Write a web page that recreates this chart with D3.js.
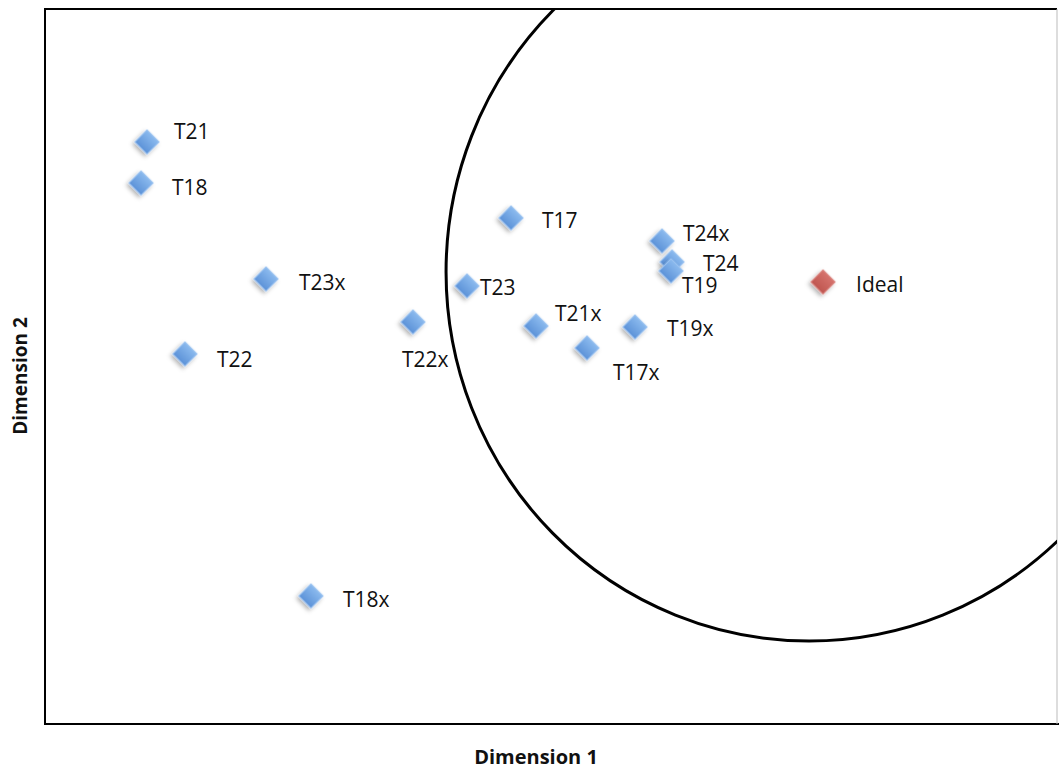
<!DOCTYPE html>
<html>
<head>
<meta charset="utf-8">
<script src="https://cdn.jsdelivr.net/npm/d3@7"></script>
<style>
  html, body { margin: 0; padding: 0; background: #fff; }
  svg { display: block; }
  text { font-family: "Open Sans", "DejaVu Sans", sans-serif; fill: #111; }
</style>
</head>
<body>
<svg id="chart" width="1059" height="769"></svg>
<script>
// ---- data ----
const names   = ["T21", "T18", "T23x", "T22", "T18x", "T22x", "T23", "T17", "T21x", "T17x", "T19x", "T24x", "T24", "T19"];
const dim1    = [10.08, 9.49, 21.84, 13.83, 26.28, 36.36, 41.70, 46.05, 48.52, 53.56, 58.30, 60.97, 61.96, 61.86];
const dim2    = [81.40, 75.66, 62.24, 51.75, 17.90, 56.22, 61.26, 70.77, 55.66, 52.59, 55.52, 67.55, 64.62, 63.36];
const idealName = "Ideal";
const idealDim1 = 76.88;
const idealDim2 = 61.82;
// acceptance region around the ideal point (centre and radii in data units)
const regionCenter = [75.50, 63.22];
const regionRadius = [35.87, 51.61];
const xDomain = [0, 100];
const yDomain = [0, 100];
const xTitle = "Dimension 1";
const yTitle = "Dimension 2";

// ---- layout (label offsets in px: dx from point to text start, dy to text middle) ----
const labelOffsets = {
  "T21": [27, -10.5], "T18": [31, 4], "T23x": [33, 3], "T22": [32, 5.5], "T18x": [32, 3],
  "T22x": [-11, 37.5], "T23": [13, 1], "T17": [31, 2], "T21x": [19, -13], "T17x": [26, 24],
  "T19x": [32, 1], "T24x": [21, -8], "T24": [31, 1.5], "T19": [11, 14], "Ideal": [33, 2.5]
};

const svg = d3.select("#chart");
const pLeft = 45, pRight = 1057, pTop = 9, pBottom = 724;

const x = d3.scaleLinear().domain(xDomain).range([pLeft, pRight]);
const y = d3.scaleLinear().domain(yDomain).range([pBottom, pTop]);

const defs = svg.append("defs");
const gB = defs.append("linearGradient").attr("id", "gBlue").attr("x1", 0).attr("y1", 0).attr("x2", 0).attr("y2", 1);
gB.append("stop").attr("offset", "0%").attr("stop-color", "#8bbaee");
gB.append("stop").attr("offset", "100%").attr("stop-color", "#5c92d8");
const gR = defs.append("linearGradient").attr("id", "gRed").attr("x1", 0).attr("y1", 0).attr("x2", 0).attr("y2", 1);
gR.append("stop").attr("offset", "0%").attr("stop-color", "#d6736d");
gR.append("stop").attr("offset", "100%").attr("stop-color", "#bf5650");
const f = defs.append("filter").attr("id", "shadow").attr("x", "-50%").attr("y", "-50%").attr("width", "200%").attr("height", "200%");
f.append("feDropShadow").attr("dx", 0).attr("dy", 3).attr("stdDeviation", 2.2).attr("flood-color", "#000").attr("flood-opacity", 0.3);
defs.append("clipPath").attr("id", "plotClip").append("rect")
  .attr("x", pLeft).attr("y", pTop).attr("width", pRight - pLeft).attr("height", pBottom - pTop);

// frame
svg.append("line").attr("x1", pLeft).attr("x2", pLeft).attr("y1", pTop).attr("y2", pBottom).attr("stroke", "#000").attr("stroke-width", 2);
svg.append("line").attr("x1", pLeft - 1).attr("x2", pRight + 2).attr("y1", pBottom).attr("y2", pBottom).attr("stroke", "#000").attr("stroke-width", 2);
svg.append("line").attr("x1", pLeft - 1).attr("x2", pRight).attr("y1", pTop).attr("y2", pTop).attr("stroke", "#000").attr("stroke-width", 2);
svg.append("line").attr("x1", pRight).attr("x2", pRight).attr("y1", pTop).attr("y2", pBottom).attr("stroke", "#bbb").attr("stroke-width", 1);

// region circle
svg.append("ellipse")
  .attr("clip-path", "url(#plotClip)")
  .attr("cx", x(regionCenter[0])).attr("cy", y(regionCenter[1]))
  .attr("rx", x(regionCenter[0] + regionRadius[0]) - x(regionCenter[0]))
  .attr("ry", y(regionCenter[1]) - y(regionCenter[1] + regionRadius[1]))
  .attr("fill", "none").attr("stroke", "#000").attr("stroke-width", 3);

const pts = names.map((n, i) => ({ name: n, x: dim1[i], y: dim2[i], ideal: false }));
pts.push({ name: idealName, x: idealDim1, y: idealDim2, ideal: true });

const sym = d3.symbol().type(d3.symbolSquare).size(300);

svg.append("g").selectAll("path").data(pts).join("path")
  .attr("d", sym)
  .attr("transform", d => `translate(${x(d.x)},${y(d.y)}) rotate(45)`)
  .attr("fill", d => d.ideal ? "url(#gRed)" : "url(#gBlue)")
  .attr("stroke", d => d.ideal ? "#dc8a85" : "#9ec4f1")
  .attr("stroke-width", 1)
  .attr("filter", "url(#shadow)");

svg.append("g").selectAll("text").data(pts).join("text")
  .attr("x", d => x(d.x) + labelOffsets[d.name][0])
  .attr("y", d => y(d.y) + labelOffsets[d.name][1])
  .attr("dy", "0.36em")
  .attr("font-size", 21)
  .text(d => d.name);

svg.append("text").attr("x", 536).attr("y", 757).attr("dy", "0.36em")
  .attr("text-anchor", "middle").attr("font-size", 20).attr("font-weight", "bold").text(xTitle);
svg.append("text").attr("transform", "translate(20,376) rotate(-90)").attr("dy", "0.36em")
  .attr("text-anchor", "middle").attr("font-size", 19).attr("font-weight", "bold").text(yTitle);
</script>
</body>
</html>
